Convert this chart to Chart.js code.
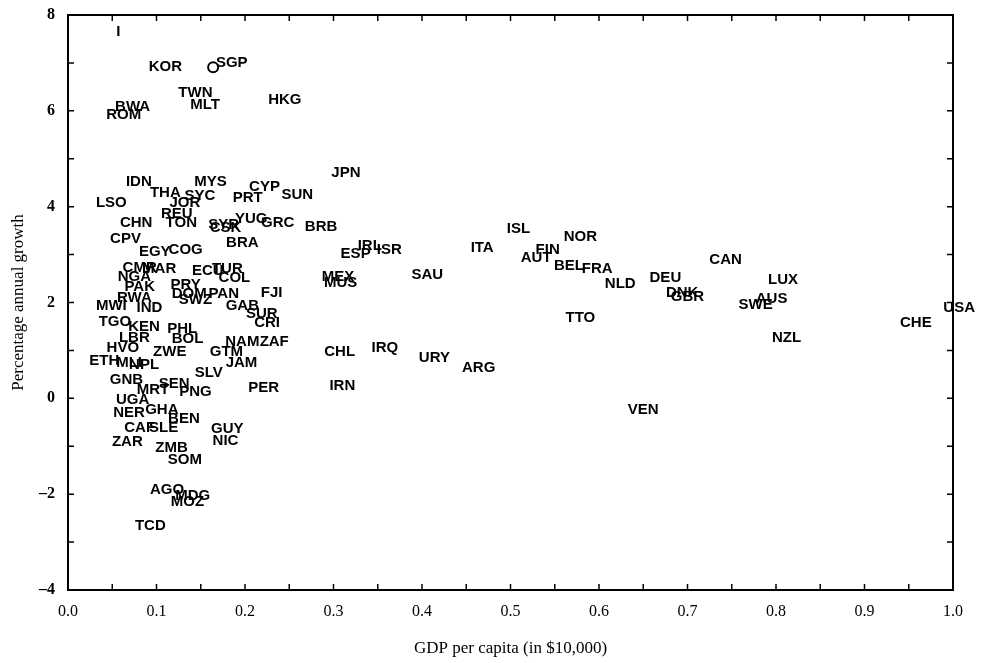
<!DOCTYPE html>
<html>
<head>
<meta charset="utf-8">
<script src="https://cdn.jsdelivr.net/npm/chart.js@4.4.0/dist/chart.umd.min.js"></script>
<style>
  html, body { margin: 0; padding: 0; background: #fff; }
  #wrap { width: 984px; height: 663px; }
</style>
</head>
<body>
<div id="wrap"><canvas id="growthChart"></canvas></div>
<script>
// country codes, GDP per capita (in $10,000) and percentage annual growth
const countryCodes = [
  "I", "KOR", "SGP", "TWN", "MLT", "HKG", "BWA", "ROM", "JPN", "IDN",
  "MYS", "THA", "SYC", "JOR", "CYP", "PRT", "SUN", "LSO", "REU", "CHN",
  "TON", "CSK", "SYR", "YUG", "GRC", "CPV", "BRA", "BRB", "EGY", "COG",
  "CMR", "MAR", "NGA", "ECU", "TUR", "COL", "PAK", "FJI", "PRY", "DOM",
  "PAN", "SWZ", "GAB", "RWA", "MWI", "IND", "SUR", "TGO", "KEN", "CRI",
  "PHL", "LBR", "BOL", "NAM", "ZAF", "HVO", "ZWE", "GTM", "JAM", "ETH",
  "MLI", "NPL", "SLV", "GNB", "SEN", "MRT", "PNG", "PER", "CHL", "IRQ",
  "URY", "ARG", "IRN", "UGA", "GHA", "NER", "BEN", "GUY", "NIC", "CAF",
  "SLE", "ZAR", "ZMB", "SOM", "AGO", "MDG", "MOZ", "TCD", "ESP", "IRL",
  "ISR", "MEX", "MUS", "SAU", "ITA", "ISL", "NOR", "FIN", "AUT", "BEL",
  "FRA", "NLD", "TTO", "DEU", "CAN", "DNK", "GBR", "LUX", "AUS", "SWE",
  "NZL", "CHE", "USA", "VEN"
];
const gdpPerCapita = [
  0.057, 0.110, 0.185, 0.144, 0.155, 0.245, 0.073, 0.063, 0.314, 0.080,
  0.161, 0.110, 0.149, 0.132, 0.222, 0.203, 0.259, 0.049, 0.123, 0.077,
  0.128, 0.178, 0.176, 0.207, 0.237, 0.065, 0.197, 0.286, 0.098, 0.133,
  0.081, 0.103, 0.075, 0.158, 0.180, 0.188, 0.081, 0.230, 0.133, 0.137,
  0.176, 0.144, 0.197, 0.075, 0.049, 0.092, 0.219, 0.053, 0.086, 0.225,
  0.129, 0.075, 0.135, 0.197, 0.233, 0.062, 0.115, 0.179, 0.196, 0.041,
  0.069, 0.086, 0.159, 0.066, 0.120, 0.096, 0.144, 0.221, 0.307, 0.358,
  0.414, 0.464, 0.310, 0.073, 0.106, 0.069, 0.131, 0.180, 0.178, 0.081,
  0.108, 0.067, 0.117, 0.132, 0.112, 0.141, 0.135, 0.093, 0.325, 0.341,
  0.363, 0.305, 0.308, 0.406, 0.468, 0.509, 0.579, 0.542, 0.529, 0.566,
  0.598, 0.624, 0.579, 0.675, 0.743, 0.694, 0.700, 0.808, 0.795, 0.777,
  0.812, 0.958, 1.007, 0.650
];
const annualGrowth = [
  7.64, 6.91, 7.01, 6.37, 6.12, 6.22, 6.08, 5.91, 4.70, 4.51,
  4.51, 4.28, 4.22, 4.07, 4.41, 4.18, 4.24, 4.07, 3.86, 3.67,
  3.67, 3.55, 3.61, 3.74, 3.67, 3.32, 3.24, 3.57, 3.05, 3.09,
  2.73, 2.71, 2.53, 2.67, 2.71, 2.51, 2.32, 2.21, 2.36, 2.19,
  2.19, 2.05, 1.94, 2.09, 1.94, 1.88, 1.77, 1.59, 1.50, 1.57,
  1.46, 1.27, 1.25, 1.17, 1.17, 1.06, 0.96, 0.96, 0.75, 0.79,
  0.73, 0.69, 0.54, 0.38, 0.31, 0.17, 0.13, 0.21, 0.98, 1.06,
  0.84, 0.63, 0.27, -0.04, -0.25, -0.31, -0.42, -0.63, -0.88, -0.61,
  -0.61, -0.90, -1.04, -1.29, -1.90, -2.03, -2.17, -2.67, 3.01, 3.19,
  3.09, 2.53, 2.40, 2.57, 3.15, 3.53, 3.38, 3.09, 2.94, 2.76,
  2.71, 2.38, 1.67, 2.51, 2.90, 2.21, 2.11, 2.48, 2.07, 1.96,
  1.27, 1.57, 1.88, -0.25
];
// the single circled marker next to SGP
const circledPoint = [{ x: 0.164, y: 6.91 }];

const points = countryCodes.map((c, i) => ({ x: gdpPerCapita[i], y: annualGrowth[i] }));

// draws each country code centred on its point
const codeLabels = {
  id: "codeLabels",
  afterDatasetsDraw(chart) {
    const ctx = chart.ctx;
    const meta = chart.getDatasetMeta(0);
    ctx.save();
    ctx.font = "bold 15px 'Liberation Sans', Arial, sans-serif";
    ctx.fillStyle = "#000";
    ctx.textAlign = "center";
    ctx.textBaseline = "middle";
    meta.data.forEach((pt, i) => {
      ctx.fillText(countryCodes[i], pt.x, pt.y);
    });
    ctx.restore();
  },
};

// box round the plot with ticks pointing inwards on all four sides
const frameTicks = {
  id: "frameTicks",
  afterDraw(chart) {
    const { ctx, chartArea: a, scales } = chart;
    const len = 6;
    ctx.save();
    ctx.strokeStyle = "#000";
    ctx.lineWidth = 1.5;
    ctx.beginPath();
    scales.x.ticks.forEach((t) => {
      const px = scales.x.getPixelForValue(t.value);
      ctx.moveTo(px, a.bottom); ctx.lineTo(px, a.bottom - len);
      ctx.moveTo(px, a.top); ctx.lineTo(px, a.top + len);
    });
    scales.y.ticks.forEach((t) => {
      const py = scales.y.getPixelForValue(t.value);
      ctx.moveTo(a.left, py); ctx.lineTo(a.left + len, py);
      ctx.moveTo(a.right, py); ctx.lineTo(a.right - len, py);
    });
    ctx.stroke();
    ctx.lineWidth = 2;
    ctx.strokeRect(a.left, a.top, a.right - a.left, a.bottom - a.top);
    ctx.restore();
  },
};

const ctx = document.getElementById("growthChart").getContext("2d");
new Chart(ctx, {
  type: "scatter",
  data: {
    datasets: [
      {
        label: "Countries",
        data: points,
        pointRadius: 0,
        pointHoverRadius: 0,
      },
      {
        label: "Marker",
        data: circledPoint,
        pointRadius: 5,
        borderWidth: 2,
        borderColor: "#000",
        backgroundColor: "rgba(0,0,0,0)",
      },
    ],
  },
  options: {
    responsive: true,
    maintainAspectRatio: false,
    animation: false,
    layout: { padding: { top: 15, right: 31, left: 0, bottom: 0 } },
    plugins: {
      legend: { display: false },
      tooltip: { enabled: false },
    },
    scales: {
      x: {
        type: "linear",
        min: 0,
        max: 1,
        afterFit: (s) => { s.height = 73; },
        grid: { display: false, drawTicks: false },
        border: { display: false },
        ticks: {
          stepSize: 0.05,
          autoSkip: false,
          maxRotation: 0,
          padding: 12,
          color: "#000",
          font: { family: "'Liberation Serif', 'Times New Roman', serif", size: 16 },
          callback: (v) => (Math.round(v * 100) % 10 === 0 ? v.toFixed(1) : ""),
        },
        title: {
          display: true,
          text: "GDP per capita (in $10,000)",
          color: "#000",
          font: { family: "'Liberation Serif', 'Times New Roman', serif", size: 17 },
          padding: { top: 0, bottom: 4 },
        },
      },
      y: {
        type: "linear",
        min: -4,
        max: 8,
        afterFit: (s) => { s.width = 68; s.paddingTop = 0; s.paddingBottom = 0; },
        grid: { display: false, drawTicks: false },
        border: { display: false },
        ticks: {
          stepSize: 1,
          autoSkip: false,
          padding: 13,
          color: "#000",
          font: { family: "'Liberation Serif', 'Times New Roman', serif", size: 16, weight: "bold" },
          callback: (v) => (v % 2 === 0 ? (v < 0 ? "\u2013" + Math.abs(v) : String(v)) : ""),
        },
        title: {
          display: true,
          text: "Percentage annual growth",
          color: "#000",
          font: { family: "'Liberation Serif', 'Times New Roman', serif", size: 17 },
          padding: { top: 8, bottom: 0 },
        },
      },
    },
  },
  plugins: [codeLabels, frameTicks],
});
</script>
</body>
</html>
